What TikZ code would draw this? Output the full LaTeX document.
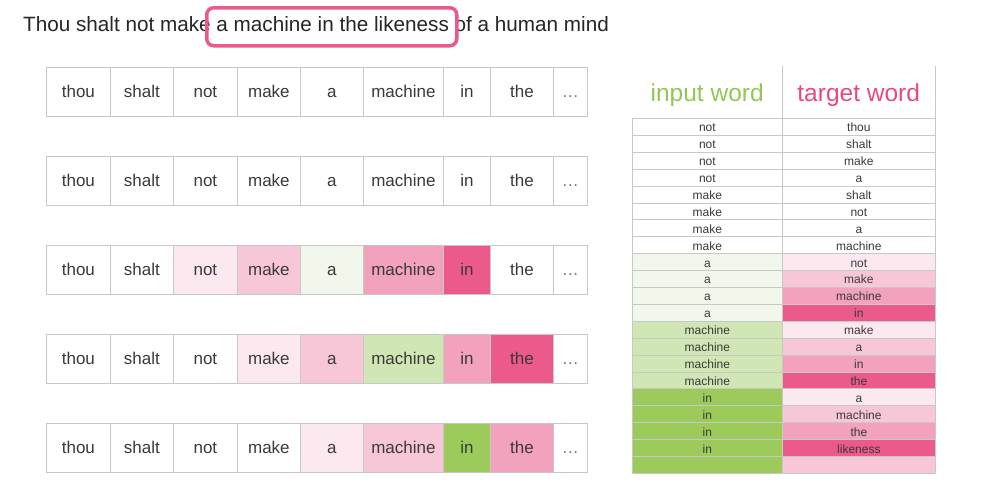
\documentclass[tikz,border=0pt]{standalone}
\usepackage{fontspec}
\setmainfont{Liberation Sans}
\definecolor{pA}{HTML}{FCE8EF}
\definecolor{pB}{HTML}{F8C7D7}
\definecolor{pC}{HTML}{F2A2BC}
\definecolor{pD}{HTML}{EC5A8B}
\definecolor{gA}{HTML}{F1F7EA}
\definecolor{gB}{HTML}{D0E6B4}
\definecolor{gC}{HTML}{9CCB5B}
\definecolor{gridc}{HTML}{C8C8C8}
\definecolor{hlpink}{HTML}{EC5A8B}
\definecolor{hdgreen}{HTML}{92C756}
\definecolor{hdpink}{HTML}{E84A7F}
\definecolor{txtc}{HTML}{3A3A3A}
\newcommand{\wcell}[6]{%
  \node[wordcell, fill=#5, minimum width=#3-#2, anchor=north west] (#1) at (#2,#4) {#6};}
\begin{document}
\begin{tikzpicture}[x=1pt,y=-1pt,
  wordcell/.style={draw=gridc, line width=0.8pt, inner sep=0pt, minimum height=49,
    font=\fontsize{17}{20}\selectfont, text=txtc, text height=15pt, text depth=3pt},
  tabcell/.style={draw=gridc, line width=0.7pt, inner sep=0pt, minimum height=16.905,
    font=\fontsize{12}{14}\selectfont, text=txtc, text height=11.5pt, text depth=1.5pt},
  headcell/.style={inner sep=0pt, minimum height=52, font=\fontsize{24.5}{28}\selectfont,
    text height=22pt, text depth=3.2pt},
  gridline/.style={draw=gridc, line width=0.7pt}]
\useasboundingbox[fill=white] (0,0) rectangle (999,496);

% title
\node[anchor=base west, inner sep=0pt, font=\fontsize{20.7}{24}\selectfont, text=black!85] (title) at (23,31.5)
  {Thou shalt not make a machine in the likeness of a human mind};
\node[draw=hlpink, line width=3.5pt, rounded corners=7pt, minimum width=250, minimum height=38,
  anchor=north west, inner sep=0pt] (hl) at (205,6) {};

% word rows
\foreach \r/\top/\fa/\fb/\fc/\fd/\fe/\ff/\fg/\fh in {
  1/67/white/white/white/white/white/white/white/white,
  2/156/white/white/white/white/white/white/white/white,
  3/245/white/white/pA/pB/gA/pC/pD/white,
  4/334/white/white/white/pA/pB/gB/pC/pD,
  5/423/white/white/white/white/pA/pB/gC/pC}{
  \wcell{w\r a}{46}{110}{\top}{\fa}{thou}
  \wcell{w\r b}{110}{173}{\top}{\fb}{shalt}
  \wcell{w\r c}{173}{237}{\top}{\fc}{not}
  \wcell{w\r d}{237}{300}{\top}{\fd}{make}
  \wcell{w\r e}{300}{363}{\top}{\fe}{a}
  \wcell{w\r f}{363}{443}{\top}{\ff}{machine}
  \wcell{w\r g}{443}{490}{\top}{\fg}{in}
  \wcell{w\r h}{490}{553}{\top}{\fh}{the}
  \wcell{w\r i}{553}{587}{\top}{white}{\textcolor{black!55}{\dots}}
}

% table header
\node[headcell, minimum width=150, anchor=north west, text=hdgreen] (hin) at (632,66) {input word};
\node[headcell, minimum width=153, anchor=north west, text=hdpink] (htg) at (782,66) {target word};
\draw[gridline] (htg.north west) -- (htg.south west);
\draw[gridline] (htg.north east) -- (htg.south east);

% table rows
\foreach \i/\inp/\tgt/\fa/\fb in {
  1/not/thou/white/white, 2/not/shalt/white/white, 3/not/make/white/white, 4/not/a/white/white,
  5/make/shalt/white/white, 6/make/not/white/white, 7/make/a/white/white, 8/make/machine/white/white,
  9/a/not/gA/pA, 10/a/make/gA/pB, 11/a/machine/gA/pC, 12/a/in/gA/pD,
  13/machine/make/gB/pA, 14/machine/a/gB/pB, 15/machine/in/gB/pC, 16/machine/the/gB/pD,
  17/in/a/gC/pA, 18/in/machine/gC/pB, 19/in/the/gC/pC, 20/in/likeness/gC/pD,
  21/{}/{}/gC/pB}{
  \pgfmathsetmacro\tp{118+(\i-1)*16.905}
  \node[tabcell, fill=\fa, minimum width=150, anchor=north west] (ti\i) at (632,\tp) {\inp};
  \node[tabcell, fill=\fb, minimum width=153, anchor=north west] (tt\i) at (782,\tp) {\tgt};
}
\end{tikzpicture}
\end{document}
